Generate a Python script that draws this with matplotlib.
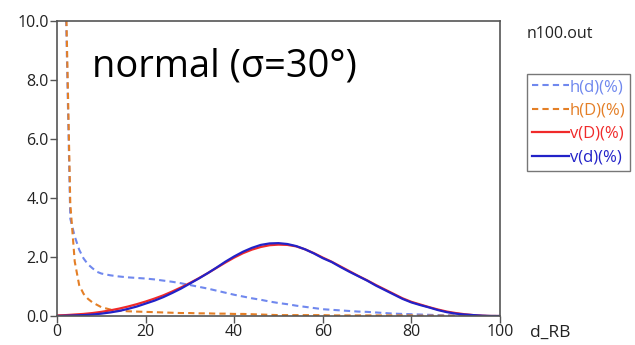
import matplotlib
matplotlib.use("Agg")
import matplotlib.pyplot as plt

# --- data -------------------------------------------------------------
x_h = [1, 2, 3, 4, 5, 6, 7, 8, 9, 10, 12, 14, 16, 18, 20, 22, 24, 26, 28, 30,
       32, 34, 36, 38, 40, 42, 44, 46, 48, 50, 52, 54, 56, 58, 60, 62, 64, 66,
       68, 70, 72, 74, 76, 78, 80, 82, 84, 86, 88, 90, 92, 94, 96, 98, 100]
h_d = [60, 10.5, 3.3, 2.7, 2.25, 1.95, 1.75, 1.62, 1.5, 1.44, 1.38, 1.34, 1.31,
       1.29, 1.27, 1.24, 1.2, 1.16, 1.11, 1.05, 0.99, 0.93, 0.86, 0.79, 0.72,
       0.66, 0.6, 0.55, 0.49, 0.44, 0.4, 0.35, 0.31, 0.27, 0.23, 0.21, 0.19,
       0.17, 0.15, 0.14, 0.12, 0.1, 0.08, 0.07, 0.06, 0.05, 0.04, 0.03, 0.02,
       0.02, 0.01, 0.01, 0.0, 0.0, 0.0]
h_D = [80, 11, 3.8, 1.85, 1.05, 0.75, 0.58, 0.46, 0.38, 0.3, 0.22, 0.18, 0.16,
       0.15, 0.14, 0.13, 0.12, 0.11, 0.1, 0.1, 0.09, 0.09, 0.08, 0.08, 0.07,
       0.07, 0.06, 0.05, 0.04, 0.03, 0.03, 0.03, 0.03, 0.03, 0.03, 0.02, 0.02,
       0.02, 0.02, 0.02, 0.02, 0.02, 0.02, 0.02, 0.02, 0.01, 0.01, 0.01, 0.01,
       0.01, 0.01, 0.0, 0.0, 0.0, 0.0]

x_v = list(range(0, 101, 2))
v_D = [0.02, 0.03, 0.05, 0.07, 0.1, 0.14, 0.19, 0.25, 0.32, 0.4, 0.49, 0.59,
       0.7, 0.83, 0.97, 1.12, 1.28, 1.45, 1.63, 1.81, 1.98, 2.13, 2.25, 2.34,
       2.4, 2.42, 2.41, 2.36, 2.26, 2.13, 1.98, 1.84, 1.68, 1.52, 1.36, 1.21,
       1.05, 0.9, 0.75, 0.6, 0.48, 0.39, 0.3, 0.22, 0.15, 0.1, 0.06, 0.03,
       0.01, 0.0, 0.0]
v_d = [0.0, 0.01, 0.02, 0.03, 0.05, 0.08, 0.12, 0.17, 0.24, 0.32, 0.42, 0.52,
       0.64, 0.78, 0.93, 1.1, 1.27, 1.45, 1.64, 1.84, 2.02, 2.18, 2.31, 2.41,
       2.46, 2.47, 2.44, 2.37, 2.26, 2.12, 1.96, 1.83, 1.66, 1.5, 1.35, 1.2,
       1.03, 0.88, 0.73, 0.58, 0.46, 0.37, 0.29, 0.2, 0.13, 0.08, 0.05, 0.03,
       0.01, 0.0, 0.0]

x_ticks = [0, 20, 40, 60, 80, 100]
y_ticks = [0.0, 2.0, 4.0, 6.0, 8.0, 10.0]

# --- figure -----------------------------------------------------------
plt.rcParams['font.family'] = ['Open Sans', 'DejaVu Sans']

fig = plt.figure(figsize=(6.35, 3.45), dpi=100)
ax = fig.add_axes([57 / 635, 29 / 345, 443 / 635, 295 / 345])

c_hd = '#7088ee'
c_hD = '#e47f26'
c_vD = '#f02a2a'
c_vd = '#2222c8'

ax.plot(x_h, h_d, color=c_hd, lw=1.5, ls=(0, (3, 2)), label='h(d)(%)')
ax.plot(x_h, h_D, color=c_hD, lw=1.5, ls=(0, (3, 2)), label='h(D)(%)')
ax.plot(x_v, v_D, color=c_vD, lw=1.6, label='v(D)(%)')
ax.plot(x_v, v_d, color=c_vd, lw=1.6, label='v(d)(%)')

ax.set_xlim(0, 100)
ax.set_ylim(0, 10)
ax.set_xticks(x_ticks)
ax.set_yticks(y_ticks)
ax.set_yticklabels([f'{v:.1f}' for v in y_ticks])
for s in ax.spines.values():
    s.set_color('#555555')
    s.set_linewidth(1.2)
ax.tick_params(direction='out', length=5, width=1.0, color='#555555',
               labelsize=11.5, labelcolor='#222222', pad=1)

fig.text(92 / 635, 1 - 77 / 345, 'normal (σ=30°)', fontsize=27.4,
         color='black', va='baseline')
fig.text(527 / 635, 1 - 38 / 345, 'n100.out', fontsize=11.5, color='#222222')
fig.text(530 / 635, 1 - 337 / 345, 'd_RB', fontsize=12.5, color='#222222')

leg = fig.legend(loc='upper left', bbox_to_anchor=(527 / 635, 1 - 74 / 345),
                 frameon=True, fancybox=False, edgecolor='#555555',
                 fontsize=12, handlelength=2.2, handletextpad=0.05,
                 labelspacing=0.45, borderpad=0.3, borderaxespad=0,
                 labelcolor='linecolor')
leg.get_frame().set_linewidth(1.0)

fig.savefig('out.png', dpi=100)
